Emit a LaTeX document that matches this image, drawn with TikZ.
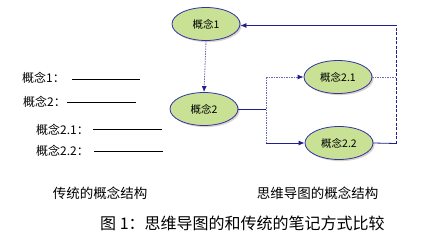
\documentclass[tikz,border=0pt]{standalone}
\usepackage{fontspec}
\setmainfont{Noto Sans CJK SC}
\usetikzlibrary{shapes.geometric,shadows,arrows.meta}
\definecolor{conceptfill}{HTML}{C8E195}
\definecolor{conceptdraw}{HTML}{3333A6}
\definecolor{linkblue}{HTML}{1F1F8F}
\definecolor{linkdot}{HTML}{6A6AB8}
\tikzset{
  concept/.style={ellipse, fill=conceptfill, draw=conceptdraw, line width=0.8pt,
    minimum width=68pt, minimum height=33pt, inner sep=0pt, font=\fontsize{10.5}{12}\selectfont,
    drop shadow={shadow xshift=1.6pt, shadow yshift=-1.6pt, fill=black!40!brown!50}},
  linksolid/.style={draw=linkblue, line width=0.8pt},
  linkdotted/.style={draw=linkdot, line width=0.8pt, dash pattern=on 1.5pt off 1pt},
  linkdashed/.style={draw=linkblue, line width=0.8pt, dash pattern=on 3pt off 1.5pt},
  tip/.style={-{Latex[length=6pt,width=5pt]}, arrows={[color=linkblue]}},
  listitem/.style={anchor=west, inner sep=0pt, font=\fontsize{12}{14}\selectfont},
  blankline/.style={draw=black, line width=0.7pt},
  caption/.style={inner sep=0pt, font=\fontsize{13.5}{15}\selectfont},
}
\begin{document}
\begin{tikzpicture}[x=1pt,y=-1pt]
\useasboundingbox (0,0) rectangle (422,238);
% mind map
\node[concept] (c1) at (206,24) {概念1};
\node[concept] (c2) at (204,109) {概念2};
\node[concept] (c21) at (338,77) {概念2.1};
\node[concept] (c22) at (339,143) {概念2.2};
\coordinate (jleft) at (266,109);
\coordinate (jright) at (396,143.5);
\draw[linkdotted,tip] (c1.south) -- (c2.north);
\draw[linksolid] (c2.east) -- (jleft);
\draw[linkdotted] (jleft |- c21.west) -- (jleft |- c22.west);
\draw[linkdotted,tip] (jleft |- c21.west) -- (c21.west);
\draw[linksolid,tip] (jleft |- c22.west) -- (c22.west);
\draw[linkdotted] (c21.east) -- (jright |- c21.east);
\draw[linksolid] (c22.east) -- (jright);
\draw[linkdashed] (jright) -- (jright |- 0,25.5);
\draw[linksolid,tip] (jright |- 0,25.5) -- (c1.east |- 0,25.5);
% traditional notes
\node[listitem] (k1) at (22,78) {概念1：};
\node[listitem] (k2) at (23,102) {概念2：};
\node[listitem] (k21) at (36,129.5) {概念2.1：};
\node[listitem] (k22) at (36,150.5) {概念2.2：};
\draw[blankline] (72,79.3) -- (140,79.3);
\draw[blankline] (67,102.7) -- (136,102.7);
\draw[blankline] (93,129.5) -- (162,129.5);
\draw[blankline] (94,151) -- (163,151);
% labels
\node[caption] (lbl1) at (100,193) {传统的概念结构};
\node[caption] (lbl2) at (317.5,193) {思维导图的概念结构};
\node[caption, anchor=west, font=\fontsize{16}{18}\selectfont] (fig) at (100,223) {图 1：思维导图的和传统的笔记方式比较};
\end{tikzpicture}
\end{document}
